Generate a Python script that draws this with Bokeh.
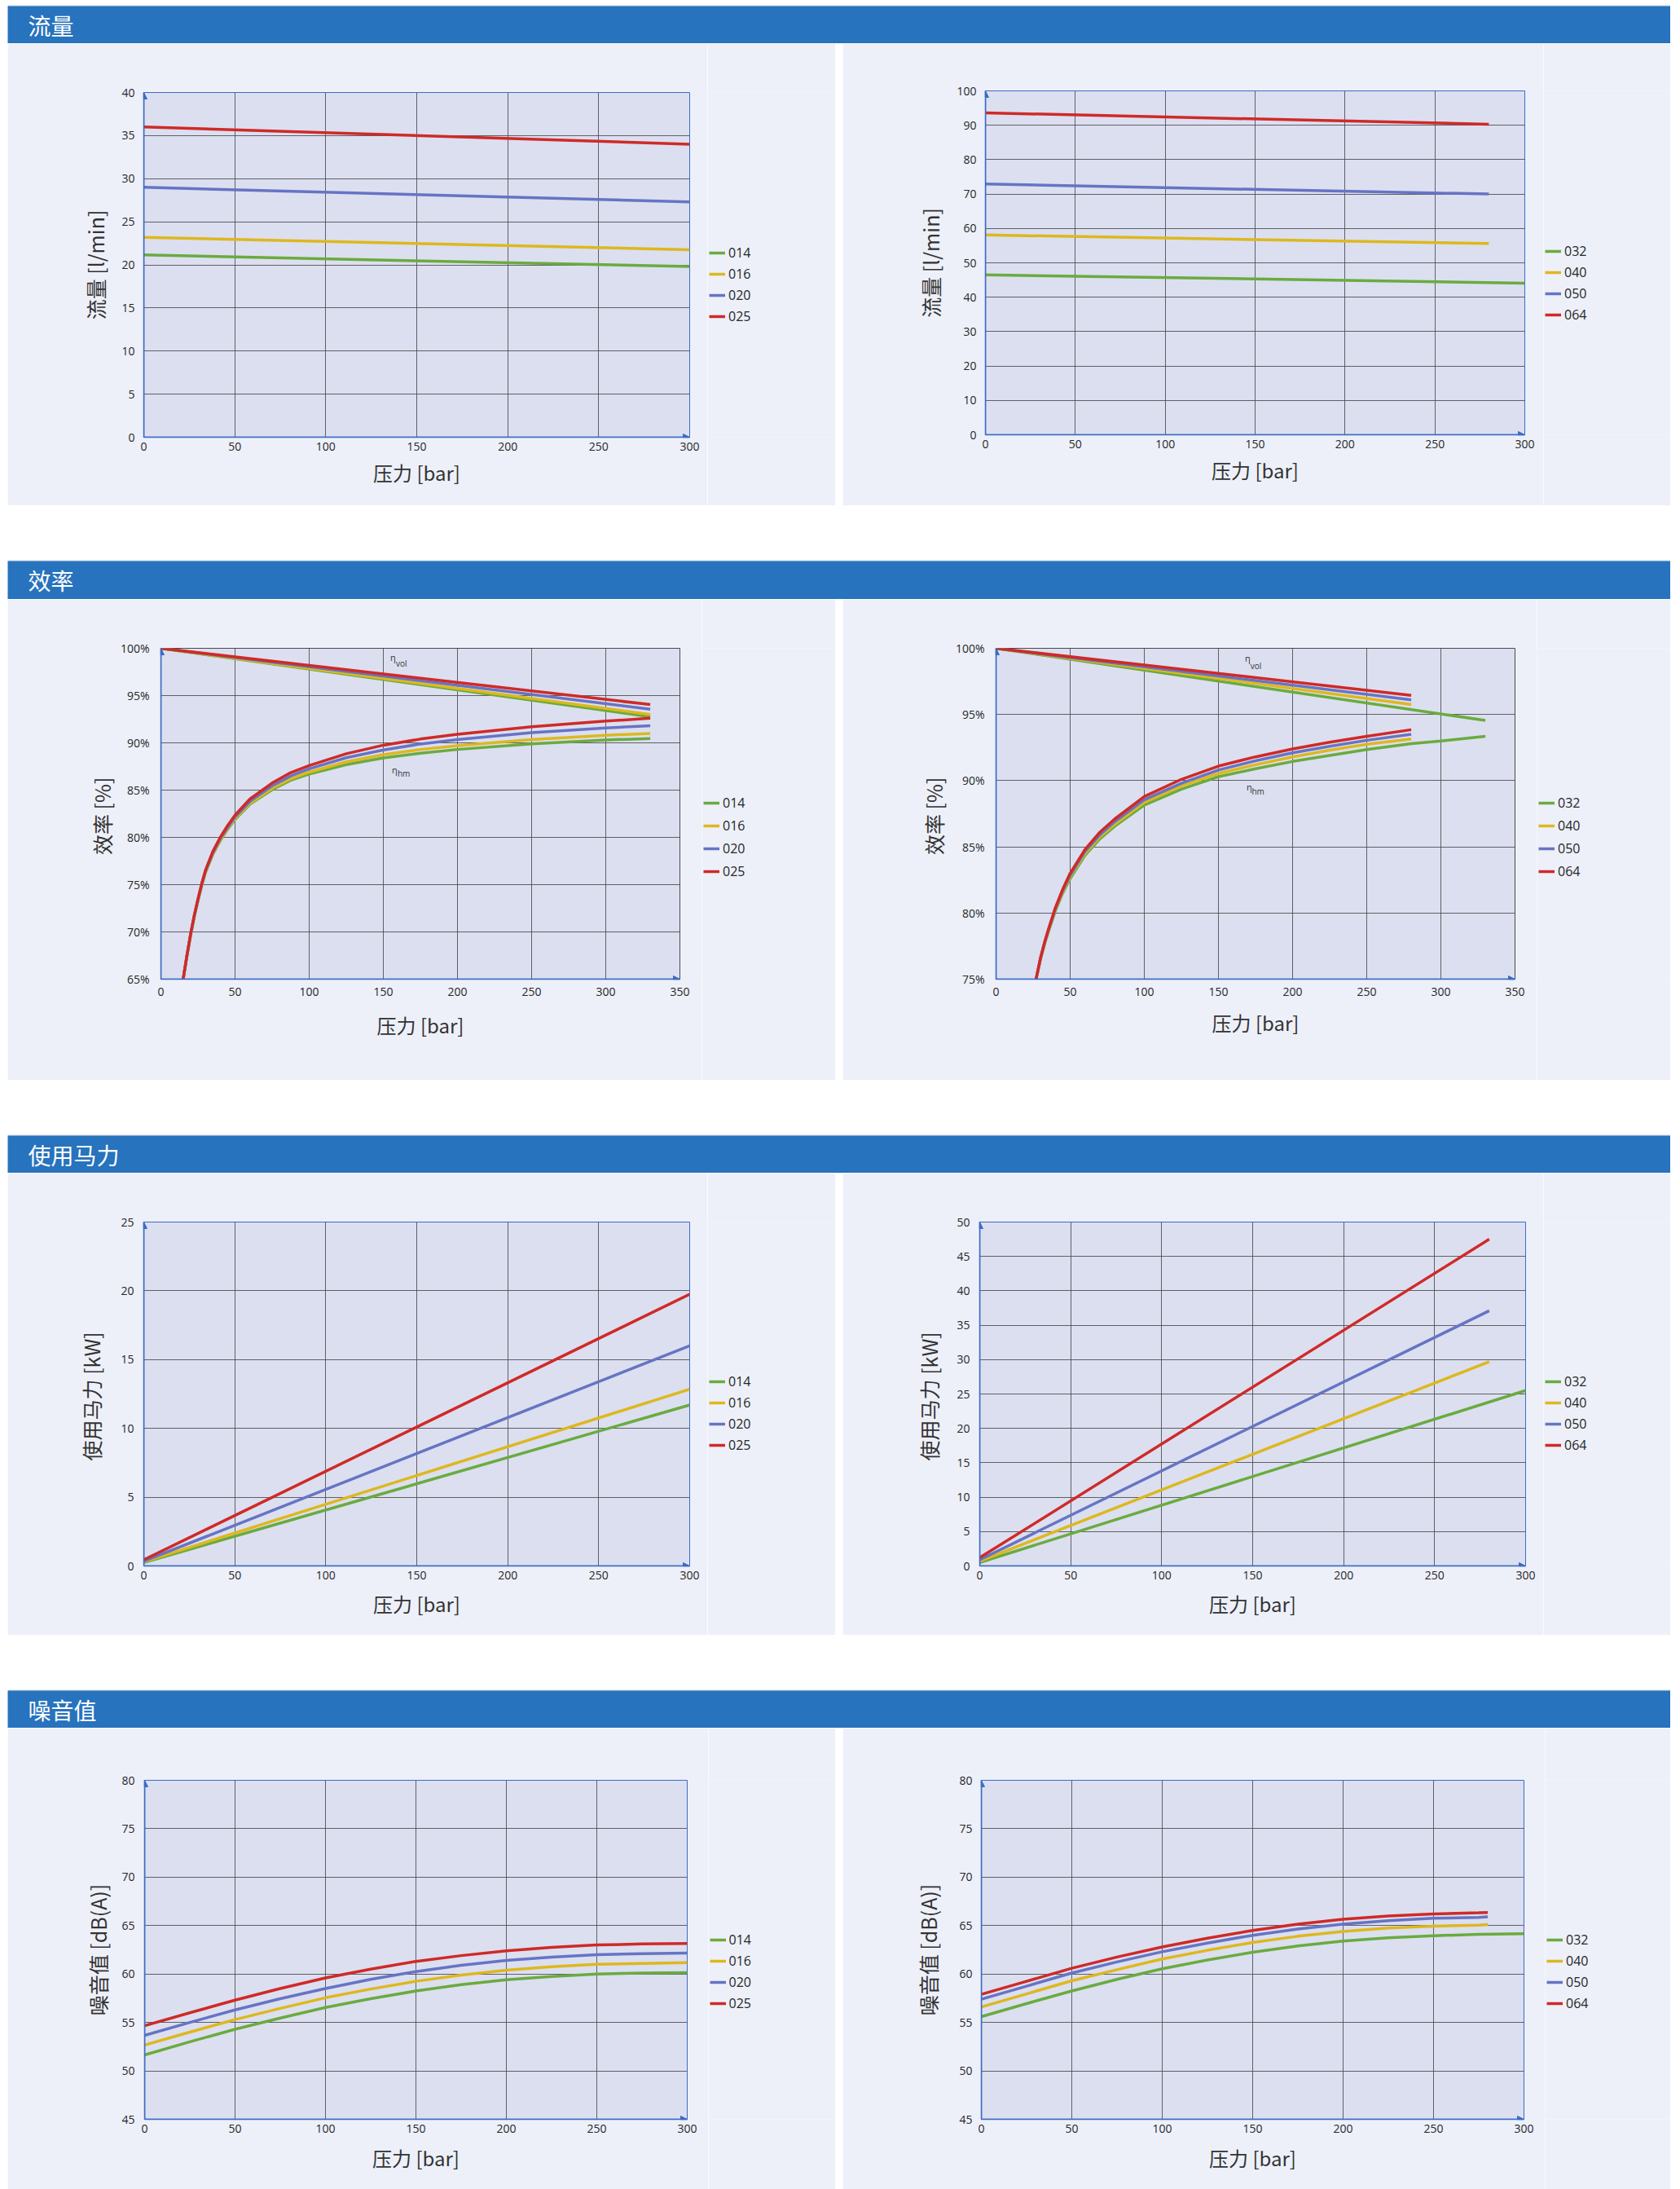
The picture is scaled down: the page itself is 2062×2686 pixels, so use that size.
from bokeh.plotting import figure
from bokeh.layouts import column, row
from bokeh.models import (Range1d, FixedTicker, Legend, LegendItem, Arrow,
                          NormalHead, Spacer, PrintfTickFormatter)
from bokeh.embed import file_html
from bokeh.resources import INLINE
from bokeh.core.properties import value

# ---------------------------------------------------------------- data
section_titles = ["流量", "效率", "使用马力", "噪音值"]
small_sizes = ["014", "016", "020", "025"]
large_sizes = ["032", "040", "050", "064"]
x_label = "压力 [bar]"
y_labels = ["流量 [l/min]", "效率  [%]", "使用马力  [kW]", "噪音值 [dB(A)]"]

pressure_ticks_300 = [0, 50, 100, 150, 200, 250, 300]
pressure_ticks_350 = [0, 50, 100, 150, 200, 250, 300, 350]

# 流量 (flow)
flow_small_ticks = [0, 5, 10, 15, 20, 25, 30, 35, 40]
flow_large_ticks = [0, 10, 20, 30, 40, 50, 60, 70, 80, 90, 100]
flow_small_p = [0, 300]
flow_014 = [21.15, 19.8]
flow_016 = [23.2, 21.75]
flow_020 = [29.0, 27.3]
flow_025 = [36.0, 34.0]
flow_032_p = [0, 300]
flow_032 = [46.5, 44.1]
flow_large_p = [0, 280]
flow_040 = [58.1, 55.6]
flow_050 = [72.9, 70.0]
flow_064 = [93.6, 90.3]

# 效率 (efficiency)
eff_small_ticks = [65, 70, 75, 80, 85, 90, 95, 100]
eff_large_ticks = [75, 80, 85, 90, 95, 100]
vol_small_p = [0, 330]
vol_014 = [100, 92.75]
vol_016 = [100, 93.0]
vol_020 = [100, 93.55]
vol_025 = [100, 94.05]
hm_small_p = [15, 17.5, 20, 22.5, 25, 27.5, 30, 35, 40, 45, 50, 60, 75, 87.5, 100, 125, 150, 175, 200, 250, 300, 330]
hm_014 = [65.0, 67.4, 69.6, 71.6, 73.3, 74.9, 76.25, 78.2, 79.65, 80.85, 81.9, 83.5, 85.05, 86.05, 86.7, 87.7, 88.4, 88.9, 89.3, 89.9, 90.3, 90.45]
hm_016 = [65.0, 67.45, 69.65, 71.65, 73.35, 74.95, 76.3, 78.25, 79.7, 80.92, 82.0, 83.6, 85.2, 86.2, 86.9, 88.0, 88.75, 89.3, 89.7, 90.35, 90.8, 91.0]
hm_020 = [65.0, 67.45, 69.7, 71.7, 73.4, 75.0, 76.4, 78.35, 79.85, 81.05, 82.15, 83.8, 85.45, 86.5, 87.25, 88.43, 89.25, 89.88, 90.35, 91.08, 91.58, 91.8]
hm_025 = [65.0, 67.45, 69.75, 71.75, 73.5, 75.1, 76.5, 78.5, 80.0, 81.25, 82.35, 84.05, 85.75, 86.85, 87.6, 88.85, 89.75, 90.4, 90.9, 91.7, 92.3, 92.6]
vol_032_p = [0, 330]
vol_032 = [100, 94.55]
vol_large_p = [0, 280]
vol_040 = [100, 95.75]
vol_050 = [100, 96.1]
vol_064 = [100, 96.45]
hm_large_p = [27, 30, 33, 36, 40, 45, 50, 60, 70, 80, 100, 125, 150, 175, 200, 225, 250, 280]
hm_032_p = [27, 30, 33, 36, 40, 45, 50, 60, 70, 80, 100, 125, 150, 175, 200, 225, 250, 280, 300, 330]
hm_032 = [75.0, 76.5, 77.75, 78.8, 80.15, 81.5, 82.6, 84.35, 85.6, 86.55, 88.15, 89.35, 90.3, 90.9, 91.45, 91.9, 92.35, 92.8, 93.0, 93.35]
hm_040 = [75.0, 76.55, 77.8, 78.9, 80.25, 81.6, 82.75, 84.5, 85.75, 86.7, 88.35, 89.6, 90.55, 91.2, 91.8, 92.3, 92.75, 93.15]
hm_050 = [75.0, 76.6, 77.85, 78.95, 80.3, 81.7, 82.85, 84.65, 85.9, 86.9, 88.55, 89.8, 90.8, 91.5, 92.1, 92.6, 93.05, 93.5]
hm_064 = [75.0, 76.6, 77.9, 79.0, 80.4, 81.8, 83.0, 84.8, 86.1, 87.1, 88.8, 90.1, 91.1, 91.8, 92.4, 92.9, 93.35, 93.85]
# η labels: (x, y, text, font size)
eta_notes_small = [(154.7, 99.09, "η", "11px"), (158.5, 98.37, "vol", "10px"),
                   (155.8, 87.14, "η", "11px"), (159.6, 86.76, "hm", "10px")]
eta_notes_large = [(167.8, 99.27, "η", "11px"), (171.6, 98.7, "vol", "10px"),
                   (169.0, 89.56, "η", "11px"), (172.5, 89.21, "hm", "10px")]

# 使用马力 (power)
power_small_ticks = [0, 5, 10, 15, 20, 25]
power_large_ticks = [0, 5, 10, 15, 20, 25, 30, 35, 40, 45, 50]
power_small_p = [0, 300]
power_014 = [0.25, 11.7]
power_016 = [0.3, 12.85]
power_020 = [0.35, 16.0]
power_025 = [0.45, 19.75]
power_032_p = [0, 300]
power_032 = [0.5, 25.5]
power_large_p = [0, 280]
power_040 = [0.7, 29.7]
power_050 = [0.9, 37.1]
power_064 = [1.2, 47.5]

# 噪音值 (noise)
noise_ticks = [45, 50, 55, 60, 65, 70, 75, 80]
noise_small_p = [0, 25, 50, 75, 100, 125, 150, 175, 200, 225, 250, 275, 300]
noise_014 = [51.65, 53.0, 54.3, 55.45, 56.55, 57.45, 58.25, 58.9, 59.4, 59.75, 60.0, 60.1, 60.15]
noise_016 = [52.67, 54.0, 55.3, 56.45, 57.55, 58.45, 59.25, 59.9, 60.4, 60.75, 61.0, 61.1, 61.18]
noise_020 = [53.67, 55.0, 56.3, 57.45, 58.5, 59.45, 60.25, 60.9, 61.4, 61.75, 62.0, 62.1, 62.17]
noise_025 = [54.66, 56.0, 57.3, 58.5, 59.6, 60.5, 61.3, 61.9, 62.4, 62.75, 63.0, 63.1, 63.16]
noise_032_p = [0, 25, 50, 75, 100, 125, 150, 175, 200, 225, 250, 275, 300]
noise_032 = [55.6, 56.95, 58.25, 59.45, 60.55, 61.45, 62.25, 62.9, 63.4, 63.75, 63.95, 64.1, 64.17]
noise_large_p = [0, 25, 50, 75, 100, 125, 150, 175, 200, 225, 250, 275, 280]
noise_040 = [56.6, 57.95, 59.3, 60.45, 61.55, 62.45, 63.25, 63.9, 64.4, 64.75, 64.95, 65.05, 65.1]
noise_050 = [57.4, 58.75, 60.1, 61.25, 62.3, 63.2, 64.0, 64.65, 65.15, 65.5, 65.75, 65.85, 65.9]
noise_064 = [57.9, 59.25, 60.6, 61.75, 62.8, 63.7, 64.5, 65.15, 65.65, 66.0, 66.2, 66.32, 66.35]

# ---------------------------------------------------------------- style
GREEN, YELLOW, BLUE, RED = "#6AAB3F", "#DDB81E", "#6674C4", "#CF2A27"
COLORS = [GREEN, YELLOW, BLUE, RED]
HEADER_BLUE = "#2773BD"
PANEL_BG = "#EDF0F9"
PLOT_BG = "#DCDFF0"
AXIS_BLUE = "#3C6CC4"
GRID = "#4A4A4A"
TEXT = "#262626"
LW = 3.5
ROW_H = 22
LEFT_X, LEFT_W, GAP_W, RIGHT_X, RIGHT_W = 9, 1016, 9, 1034, 1016
TOTAL_W = LEFT_W + GAP_W + RIGHT_W
CJK = "Noto Sans CJK SC"
NUM = "Open Sans"
NAN = float("nan")


def header(title, h):
    p = figure(width=TOTAL_W, height=h, x_range=Range1d(0, TOTAL_W), y_range=Range1d(0, h - 1),
               min_border_left=0, min_border_right=0, min_border_bottom=0, min_border_top=1,
               x_axis_location=None, y_axis_location=None, output_backend="svg",
               toolbar_location=None, background_fill_color=HEADER_BLUE,
               border_fill_color="#A3AFC2", outline_line_color=None)
    p.grid.visible = False
    p.text(x=[25], y=[(h - 1) / 2], text=[title], text_color="white",
           text_font=value(CJK), text_font_size="28px", text_baseline="middle")
    return p


def chart(fx0, fy0, W, H, frame, xr, xticks, yr, yticks, ylabel, series, legend_spec,
          y_fmt=None, outline=AXIS_BLUE, ylab_so=11, ytick_so=11, xtick_so=6, xlab_so=6,
          notes=None):
    x0, x1, y0, y1 = frame
    gx, r1, sp = legend_spec
    WC = int(round(gx - fx0)) - 2          # width of the chart part, legend part follows
    L = int(round(x0 - fx0)); FW = int(round(x1 - x0)); R = WC - L - FW
    T = int(round(y0 - fy0)); FH = int(round(y1 - y0)); B = H - T - FH
    p = figure(width=WC, height=H, x_range=Range1d(*xr), y_range=Range1d(*yr),
               min_border_left=L, min_border_right=R, min_border_top=T, min_border_bottom=B,
               output_backend="svg", toolbar_location=None,
               background_fill_color=PLOT_BG, border_fill_color=PANEL_BG,
               outline_line_color=outline, outline_line_width=1)
    p.xaxis.ticker = FixedTicker(ticks=xticks)
    p.yaxis.ticker = FixedTicker(ticks=yticks)
    if y_fmt:
        p.yaxis.formatter = PrintfTickFormatter(format=y_fmt)
    for ax in (p.xaxis, p.yaxis):
        ax.axis_line_color = AXIS_BLUE
        ax.axis_line_width = 1.5
        ax.major_tick_line_color = None
        ax.minor_tick_line_color = None
        ax.major_tick_out = 0
        ax.major_tick_in = 0
        ax.major_label_text_font = NUM
        ax.major_label_text_font_size = "14px"
        ax.major_label_text_color = TEXT
        ax.axis_label_text_font_style = "normal"
        ax.axis_label_text_color = "#333333"
    p.xaxis.major_label_standoff = xtick_so
    p.yaxis.major_label_standoff = ytick_so
    p.xaxis.axis_label = x_label
    p.xaxis.axis_label_text_font = CJK
    p.xaxis.axis_label_text_font_size = "24px"
    p.xaxis.axis_label_standoff = xlab_so
    p.yaxis.axis_label = ylabel
    p.yaxis.axis_label_text_font = CJK
    p.yaxis.axis_label_text_font_size = "25px"
    p.yaxis.axis_label_standoff = ylab_so
    for g in (p.xgrid, p.ygrid):
        g.grid_line_color = GRID
        g.grid_line_width = 1
        g.grid_line_alpha = 0.85

    for xs, ys, col, lab in series:
        p.line(xs, ys, line_color=col, line_width=LW)

    if notes:
        for nx, ny, nt, fs in notes:
            p.text(x=[nx], y=[ny], text=[nt], text_font=value(NUM), text_font_size=fs,
                   text_color="#333333", text_baseline="middle")

    # axis arrows
    head = dict(size=8, fill_color=AXIS_BLUE, line_color=AXIS_BLUE, line_width=1)
    p.add_layout(Arrow(end=NormalHead(**head), x_start=xr[0], y_start=yr[0],
                       x_end=xr[0], y_end=yr[1], line_color=AXIS_BLUE, line_width=1.5))
    p.add_layout(Arrow(end=NormalHead(**head), x_start=xr[0], y_start=yr[0],
                       x_end=xr[1], y_end=yr[0], line_color=AXIS_BLUE, line_width=1.5))

    # legend: its own borderless figure continuing the panel to the right
    # (a row aligns its plots' frames, so its frame spans the chart frame's rows)
    WL = W - WC
    q = figure(width=WL, height=H, x_range=Range1d(0, 1), y_range=Range1d(0, 1),
               min_border_left=0, min_border_right=0, min_border_top=T, min_border_bottom=B,
               x_axis_location=None, y_axis_location=None, output_backend="svg",
               toolbar_location=None, background_fill_color=PANEL_BG,
               border_fill_color=PANEL_BG, outline_line_color=None)
    q.grid.visible = False
    items = []
    for xs, ys, col, lab in series:
        if lab:
            r = q.line(x=[NAN], y=[NAN], line_color=col, line_width=LW)
            items.append(LegendItem(label=lab, renderers=[r]))
    n = len(items)
    lh = n * ROW_H + (n - 1) * sp
    top = r1 - ROW_H / 2
    lx = gx - (fx0 + WC)
    ly = y1 - (top + lh)
    leg = Legend(items=items, location=(lx, ly), orientation="vertical",
                 glyph_width=20, glyph_height=ROW_H, label_height=ROW_H, label_standoff=4,
                 spacing=sp, padding=0, margin=0, background_fill_alpha=0,
                 border_line_alpha=0, label_text_font=NUM, label_text_font_size="16px",
                 label_text_color=TEXT)
    q.add_layout(leg)
    return row(p, q)


def four(xs_list, ys_list, labels):
    return [(xs, ys, c, lab) for xs, ys, c, lab in zip(xs_list, ys_list, COLORS, labels)]


# ---------------------------------------------------------------- section 1: flow
H1 = 567
h1 = header(section_titles[0], 47)
f1l = chart(LEFT_X, 53, LEFT_W, H1, (176, 846, 113.5, 536.5), (0, 300), pressure_ticks_300,
            (0, 40), flow_small_ticks, y_labels[0],
            four([flow_small_p] * 4, [flow_014, flow_016, flow_020, flow_025], small_sizes),
            (870, 310, 4), ylab_so=11, ytick_so=11, xtick_so=6, xlab_so=6)
f1r = chart(RIGHT_X, 53, RIGHT_W, H1, (1209, 1871, 111.5, 533.5), (0, 300), pressure_ticks_300,
            (0, 100), flow_large_ticks, y_labels[0],
            four([flow_032_p, flow_large_p, flow_large_p, flow_large_p],
                 [flow_032, flow_040, flow_050, flow_064], large_sizes),
            (1896, 308, 4), ylab_so=11, ytick_so=11, xtick_so=6, xlab_so=6)

# ---------------------------------------------------------------- section 2: efficiency
H2 = 590
h2 = header(section_titles[1], 48)
eff_small_series = [(vol_small_p, v, c, None) for v, c in zip([vol_014, vol_016, vol_020, vol_025], COLORS)]
eff_small_series += [(hm_small_p, h, c, lab) for h, c, lab in zip([hm_014, hm_016, hm_020, hm_025], COLORS, small_sizes)]
f2l = chart(LEFT_X, 735, LEFT_W, H2, (196.5, 833.8, 794.5, 1200.2), (0, 350), pressure_ticks_350,
            (65, 100), eff_small_ticks, y_labels[1], eff_small_series, (863, 984, 6),
            y_fmt="%d%%", outline=GRID, ylab_so=2, ytick_so=14, xtick_so=10, xlab_so=15,
            notes=eta_notes_small)
eff_large_series = [(px, v, c, None) for px, v, c in zip([vol_032_p, vol_large_p, vol_large_p, vol_large_p],
                                                         [vol_032, vol_040, vol_050, vol_064], COLORS)]
eff_large_series += [(px, h, c, lab) for px, h, c, lab in zip([hm_032_p, hm_large_p, hm_large_p, hm_large_p],
                                                              [hm_032, hm_040, hm_050, hm_064], COLORS, large_sizes)]
f2r = chart(RIGHT_X, 735, RIGHT_W, H2, (1221.6, 1858.8, 794.5, 1200.2), (0, 350), pressure_ticks_350,
            (75, 100), eff_large_ticks, y_labels[1], eff_large_series, (1888, 984, 6),
            y_fmt="%d%%", outline=GRID, ylab_so=6, ytick_so=14, xtick_so=10, xlab_so=12,
            notes=eta_notes_large)

# ---------------------------------------------------------------- section 3: power
H3 = 567
h3 = header(section_titles[2], 47)
f3l = chart(LEFT_X, 1439, LEFT_W, H3, (176, 846, 1499.4, 1921.8), (0, 300), pressure_ticks_300,
            (0, 25), power_small_ticks, y_labels[2],
            four([power_small_p] * 4, [power_014, power_016, power_020, power_025], small_sizes),
            (870, 1695.3, 4), ylab_so=15, ytick_so=12, xtick_so=6, xlab_so=9)
f3r = chart(RIGHT_X, 1439, RIGHT_W, H3, (1201.8, 1871.3, 1499.4, 1921.8), (0, 300), pressure_ticks_300,
            (0, 50), power_large_ticks, y_labels[2],
            four([power_032_p, power_large_p, power_large_p, power_large_p],
                 [power_032, power_040, power_050, power_064], large_sizes),
            (1896, 1695.3, 4), ylab_so=13, ytick_so=12, xtick_so=6, xlab_so=9)

# ---------------------------------------------------------------- section 4: noise
H4 = 566
h4 = header(section_titles[3], 47)
f4l = chart(LEFT_X, 2120, LEFT_W, H4, (177.4, 843.6, 2184.3, 2600), (0, 300), pressure_ticks_300,
            (45, 80), noise_ticks, y_labels[3],
            four([noise_small_p] * 4, [noise_014, noise_016, noise_020, noise_025], small_sizes),
            (870.5, 2380.4, 4), ylab_so=8, ytick_so=12, xtick_so=6, xlab_so=10)
f4r = chart(RIGHT_X, 2120, RIGHT_W, H4, (1204.5, 1870.7, 2184, 2600), (0, 300), pressure_ticks_300,
            (45, 80), noise_ticks, y_labels[3],
            four([noise_032_p, noise_large_p, noise_large_p, noise_large_p],
                 [noise_032, noise_040, noise_050, noise_064], large_sizes),
            (1898, 2380, 4), ylab_so=17, ytick_so=11, xtick_so=6, xlab_so=10)

body = column(
    h1, row(f1l, Spacer(width=GAP_W, height=H1), f1r), Spacer(width=TOTAL_W, height=67),
    h2, row(f2l, Spacer(width=GAP_W, height=H2), f2r), Spacer(width=TOTAL_W, height=67),
    h3, row(f3l, Spacer(width=GAP_W, height=H3), f3r), Spacer(width=TOTAL_W, height=67),
    h4, row(f4l, Spacer(width=GAP_W, height=H4), f4r),
)
layout = column(Spacer(width=TOTAL_W, height=6), row(Spacer(width=LEFT_X, height=10), body))

open("out.html", "w").write(file_html(layout, INLINE))
